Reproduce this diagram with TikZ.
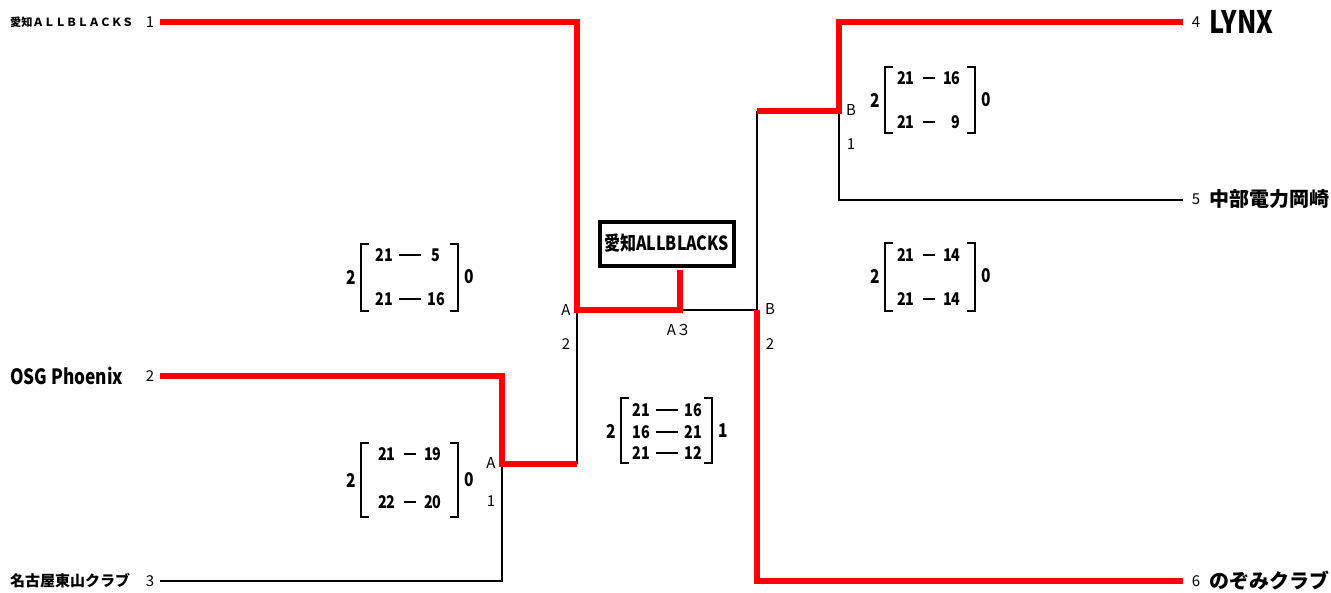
\documentclass[tikz,border=0pt]{standalone}
\usepackage{fontspec}
\setmainfont{Noto Sans CJK JP}
\newfontfamily\cond{Noto Sans CJK JP}[FakeStretch=0.82]
\newcommand\fs[1]{\fontsize{#1}{#1}\selectfont}
\newcommand\scL[2]{\makebox[17pt][c]{#1}\hspace{6.5pt}\rule[5pt]{22pt}{2pt}\hspace{6.5pt}\makebox[17pt][c]{#2}}
\newcommand\scS[2]{\makebox[17pt][r]{#1}\hspace{8pt}\rule[5pt]{12pt}{2pt}\hspace{9pt}\makebox[17pt][r]{#2}}
\newcommand\brackets[1]{\draw[brk] ([xshift=8pt]#1.north west) -- (#1.north west) -- (#1.south west) -- ([xshift=8pt]#1.south west);
  \draw[brk] ([xshift=-8pt]#1.north east) -- (#1.north east) -- (#1.south east) -- ([xshift=-8pt]#1.south east);}
\begin{document}
\begin{tikzpicture}[x=1pt,y=-1pt,
  win/.style={draw=red, line width=5.5pt, line join=miter},
  lose/.style={draw=black, line width=1.4pt},
  brk/.style={draw=black, line width=2pt, line join=miter},
  seed/.style={inner sep=0, font=\fs{15}},
  lab/.style={inner sep=0, font=\fs{15}},
  teamL/.style={inner sep=0, anchor=west, font=\cond\bfseries\fs{21}},
  score/.style={inner sep=0, font=\cond\bfseries\fs{17.5}},
  big/.style={inner sep=0, font=\cond\bfseries\fs{19}},
  bbox/.style={inner sep=0, minimum width=#1}]
\useasboundingbox (0,0) rectangle (1331,592);
% team labels left
\node[inner sep=0, anchor=west, font=\bfseries\fs{11.2}] (n1) at (10,22) {愛知ＡＬＬＢＬＡＣＫＳ};
\node[teamL] (n2) at (10,376) {OSG Phoenix};
\node[inner sep=0, anchor=west, font=\bfseries\fs{15}] (n3) at (10,581) {名古屋東山クラブ};
\node[seed] (s1) at (150,22) {1};
\node[seed] (s2) at (150,376) {2};
\node[seed] (s3) at (150,581) {3};
% right
\node[seed] (s4) at (1196,22) {4};
\node[seed] (s5) at (1196,199) {5};
\node[seed] (s6) at (1196,581) {6};
\node[inner sep=0, anchor=west, font=\cond\bfseries\fs{31}] (n4) at (1209,22) {LYNX};
\node[inner sep=0, anchor=west, font=\bfseries\fs{20}] (n5) at (1209,199) {中部電力岡崎};
\node[inner sep=0, anchor=west, font=\bfseries\fs{20}] (n6) at (1209,581) {のぞみクラブ};
% coordinates
\coordinate (e1) at (160,22);
\coordinate (e2) at (160,376);
\coordinate (e3) at (160,581);
\coordinate (e4) at (1183,22);
\coordinate (e5) at (1183,200);
\coordinate (e6) at (1183,581);
\coordinate (jA1) at (502,464);
\coordinate (jA) at (577,310);
\coordinate (jC) at (680,310);
\coordinate (jF) at (757,310);
\coordinate (jB) at (839,111);
% losers
\draw[lose] (e3) -| (jA1);
\draw[lose] (jA1 -| jA) -- (jA);
\draw[lose] (jC) -- (jF);
\draw[lose] (jF) -- (jF |- jB);
\draw[lose] (jB) |- (e5);
% champion box
\node[draw=black, line width=4pt, inner sep=0, minimum width=134pt, minimum height=44pt, font=\cond\bfseries\fs{19.5}] (champ) at (666.5,243.5) {愛知ALLBLACKS};
% winners
\draw[win] (e2) -| (jA1) -- (jA1 -| jA);
\draw[win] (e1) -| (jA) -- (jC) -- ([yshift=-2pt]jC |- champ.south);
\draw[win] (e6) -| (jF);
\draw[win] (jF |- jB) -- (jB) |- (e4);
% redraw box border on top
\node[draw=black, line width=4pt, inner sep=0, minimum width=134pt, minimum height=44pt] (champb) at (champ) {};
% junction labels
\node[lab] (la1) at (566,310) {A};
\node[lab] (la2) at (566,344) {2};
\node[lab] (la3) at (491,463) {A};
\node[lab] (la4) at (491,501) {1};
\node[lab] (la5) at (679,330) {A３};
\node[lab] (lb1) at (770,309) {B};
\node[lab] (lb2) at (770,344) {2};
\node[lab] (lb3) at (851,110) {B};
\node[lab] (lb4) at (851,144) {1};
% score set 1
\node[bbox=97pt, minimum height=67pt] (b1) at (409.5,277.5) {};
\brackets{b1}
\node[score] (c1a) at (410,255) {\scL{21}{5}};
\node[score] (c1b) at (410,299) {\scL{21}{16}};
\node[big] (c1l) at (351,277) {2};
\node[big] (c1r) at (469,277) {0};
% score set 2
\node[bbox=97pt, minimum height=74pt] (b2) at (409.5,480) {};
\brackets{b2}
\node[score] (c2a) at (410,454) {\scS{21}{19}};
\node[score] (c2b) at (410,502) {\scS{22}{20}};
\node[big] (c2l) at (351,480) {2};
\node[big] (c2r) at (469,480) {0};
% score set 3
\node[bbox=91pt, minimum height=65pt] (b3) at (666.5,430.5) {};
\brackets{b3}
\node[score] (c3a) at (667,410) {\scL{21}{16}};
\node[score] (c3b) at (667,432) {\scL{16}{21}};
\node[score] (c3c) at (667,453) {\scL{21}{12}};
\node[big] (c3l) at (611,431) {2};
\node[big] (c3r) at (723,431) {1};
% score set 4
\node[bbox=90pt, minimum height=66pt] (b4) at (930,100) {};
\brackets{b4}
\node[score] (c4a) at (929,78) {\scS{21}{16}};
\node[score] (c4b) at (929,122) {\scS{21}{9}};
\node[big] (c4l) at (875,100) {2};
\node[big] (c4r) at (986,100) {0};
% score set 5
\node[bbox=90pt, minimum height=68pt] (b5) at (930,277) {};
\brackets{b5}
\node[score] (c5a) at (929,255) {\scS{21}{14}};
\node[score] (c5b) at (929,299) {\scS{21}{14}};
\node[big] (c5l) at (875,276) {2};
\node[big] (c5r) at (986,276) {0};
\end{tikzpicture}
\end{document}
